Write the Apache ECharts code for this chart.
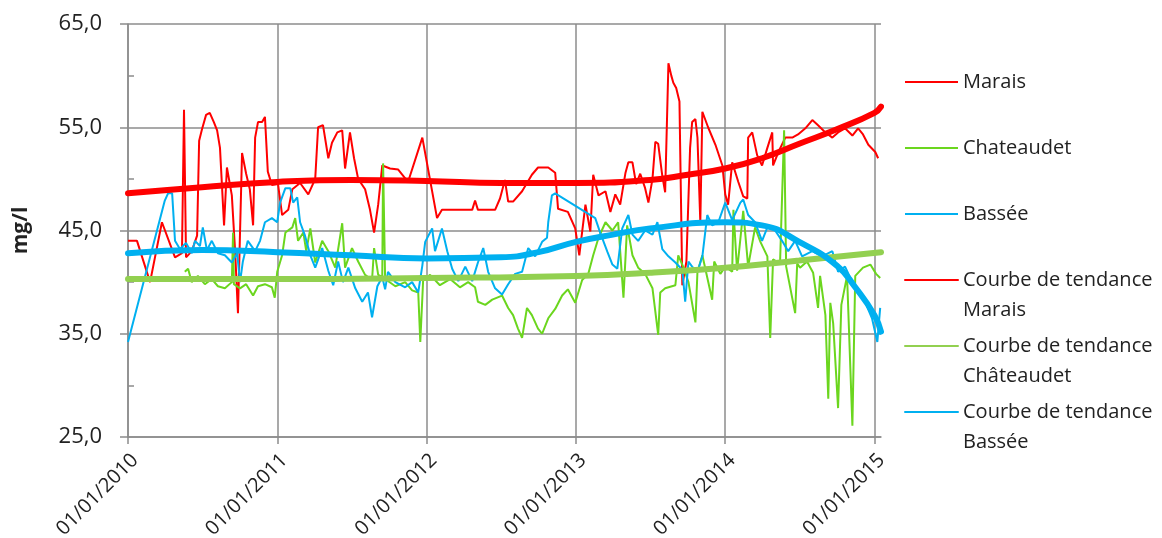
<!DOCTYPE html>
<html>
<head>
<meta charset="utf-8">
<script src="https://cdn.jsdelivr.net/npm/echarts@6/dist/echarts.min.js"></script>
<style>
  html, body { margin: 0; padding: 0; background: #fff; }
  #chart { width: 1162px; height: 538px; }
</style>
</head>
<body>
<div id="chart"></div>
<script>
var marais = [
  ['2010-01-01', 44.0], ['2010-01-23', 44.0], ['2010-02-24', 40.0], ['2010-03-25', 45.8],
  ['2010-04-26', 42.4], ['2010-05-13', 42.8], ['2010-05-18', 56.7], ['2010-05-23', 42.4],
  ['2010-06-06', 43.0], ['2010-06-19', 44.5], ['2010-06-24', 53.7], ['2010-07-01', 54.8],
  ['2010-07-11', 56.2], ['2010-07-20', 56.4], ['2010-07-30', 55.5], ['2010-08-07', 54.7],
  ['2010-08-14', 53.0], ['2010-08-24', 45.5], ['2010-08-31', 51.1], ['2010-09-12', 48.4],
  ['2010-09-20', 43.0], ['2010-09-27', 37.0], ['2010-10-07', 52.5], ['2010-10-17', 50.5],
  ['2010-10-26', 49.0], ['2010-11-03', 45.5], ['2010-11-08', 54.0], ['2010-11-15', 55.5],
  ['2010-11-25', 55.5], ['2010-12-02', 56.0], ['2010-12-09', 50.7], ['2010-12-19', 49.4],
  ['2011-01-03', 49.5], ['2011-01-13', 46.5], ['2011-01-28', 47.0], ['2011-02-07', 49.0],
  ['2011-02-26', 49.6], ['2011-03-18', 48.5], ['2011-04-04', 50.0], ['2011-04-11', 55.0],
  ['2011-04-23', 55.2], ['2011-05-06', 52.0], ['2011-05-15', 53.5], ['2011-05-28', 54.5],
  ['2011-06-09', 54.7], ['2011-06-16', 51.0], ['2011-06-28', 54.5], ['2011-07-08', 52.0],
  ['2011-07-18', 50.0], ['2011-08-04', 49.0], ['2011-08-16', 47.0], ['2011-08-26', 44.8],
  ['2011-09-05', 47.5], ['2011-09-15', 51.3], ['2011-10-04', 51.0], ['2011-10-24', 50.9],
  ['2011-11-17', 49.7], ['2011-12-22', 54.0], ['2012-01-27', 46.2], ['2012-02-08', 47.0],
  ['2012-04-22', 47.0], ['2012-04-29', 47.9], ['2012-05-06', 47.0], ['2012-06-17', 47.0],
  ['2012-06-29', 48.1], ['2012-07-11', 49.9], ['2012-07-19', 47.8], ['2012-07-31', 47.8],
  ['2012-08-22', 48.8], ['2012-09-15', 50.4], ['2012-09-30', 51.1], ['2012-10-25', 51.1],
  ['2012-11-11', 50.6], ['2012-11-18', 47.1], ['2012-12-12', 46.8], ['2012-12-30', 45.2],
  ['2013-01-09', 42.6], ['2013-01-24', 47.5], ['2013-02-05', 44.9], ['2013-02-12', 50.4],
  ['2013-02-25', 48.4], ['2013-03-14', 48.8], ['2013-03-26', 46.8], ['2013-04-07', 48.5],
  ['2013-04-19', 47.5], ['2013-05-02', 50.6], ['2013-05-09', 51.6], ['2013-05-19', 51.6],
  ['2013-05-28', 49.5], ['2013-06-07', 50.5], ['2013-06-19', 49.1], ['2013-06-27', 47.7],
  ['2013-07-07', 50.0], ['2013-07-14', 53.6], ['2013-07-21', 53.4], ['2013-07-31', 50.3],
  ['2013-08-07', 48.7], ['2013-08-15', 61.2], ['2013-08-22', 60.0], ['2013-08-27', 59.3],
  ['2013-09-03', 58.8], ['2013-09-11', 57.5], ['2013-09-13', 52.3], ['2013-09-18', 39.7],
  ['2013-09-28', 42.0], ['2013-10-07', 53.0], ['2013-10-12', 55.5], ['2013-10-20', 55.8],
  ['2013-10-25', 54.0], ['2013-11-01', 45.8], ['2013-11-06', 56.5], ['2013-11-20', 55.0],
  ['2013-12-08', 53.3], ['2013-12-25', 51.3], ['2014-01-01', 48.5], ['2014-01-08', 47.5],
  ['2014-01-18', 51.6], ['2014-02-02', 49.7], ['2014-02-14', 48.3], ['2014-02-24', 48.1],
  ['2014-02-26', 54.0], ['2014-03-08', 54.5], ['2014-03-20', 52.3], ['2014-04-01', 51.3],
  ['2014-04-14', 53.0], ['2014-04-26', 54.5], ['2014-04-28', 51.3], ['2014-05-11', 52.6],
  ['2014-05-28', 54.0], ['2014-06-14', 54.0], ['2014-06-28', 54.3], ['2014-07-16', 54.9],
  ['2014-08-02', 55.7], ['2014-08-16', 55.2], ['2014-09-03', 54.5], ['2014-09-20', 54.0],
  ['2014-10-04', 54.5], ['2014-10-21', 54.9], ['2014-11-08', 54.2], ['2014-11-22', 54.9],
  ['2014-12-04', 54.3], ['2014-12-17', 53.3], ['2015-01-03', 52.6], ['2015-01-10', 52.0]
];

var chateaudet = [
  ['2010-05-20', 41.0], ['2010-05-28', 41.3], ['2010-06-06', 40.0], ['2010-06-21', 40.6],
  ['2010-07-08', 39.8], ['2010-07-25', 40.3], ['2010-08-09', 39.6], ['2010-08-26', 39.4],
  ['2010-09-12', 40.0], ['2010-09-15', 44.8], ['2010-09-17', 39.8], ['2010-10-02', 39.4],
  ['2010-10-17', 39.8], ['2010-11-03', 38.7], ['2010-11-15', 39.6], ['2010-12-02', 39.8],
  ['2010-12-19', 39.5], ['2010-12-26', 38.5], ['2011-01-01', 41.0], ['2011-01-13', 42.6],
  ['2011-01-21', 44.8], ['2011-02-07', 45.3], ['2011-02-14', 46.2], ['2011-02-21', 44.0],
  ['2011-03-06', 44.8], ['2011-03-13', 43.0], ['2011-03-23', 45.2], ['2011-04-04', 41.9],
  ['2011-04-21', 44.0], ['2011-05-06', 43.0], ['2011-05-23', 41.4], ['2011-06-09', 45.7],
  ['2011-06-16', 41.4], ['2011-07-03', 43.3], ['2011-07-18', 42.0], ['2011-08-04', 40.7],
  ['2011-08-21', 40.2], ['2011-08-26', 43.3], ['2011-09-05', 40.7], ['2011-09-15', 40.5],
  ['2011-09-17', 51.5], ['2011-09-22', 40.3], ['2011-10-17', 39.6], ['2011-11-10', 40.0],
  ['2011-11-27', 39.2], ['2011-12-12', 39.0], ['2011-12-17', 34.2], ['2011-12-24', 40.2],
  ['2012-01-10', 40.7], ['2012-02-03', 39.7], ['2012-02-28', 40.3], ['2012-03-23', 39.5],
  ['2012-04-12', 40.0], ['2012-04-29', 39.5], ['2012-05-06', 38.1], ['2012-05-24', 37.8],
  ['2012-06-10', 38.3], ['2012-07-04', 38.7], ['2012-07-19', 37.5], ['2012-07-31', 36.8],
  ['2012-08-12', 35.5], ['2012-08-22', 34.6], ['2012-09-03', 37.5], ['2012-09-15', 36.8],
  ['2012-09-30', 35.5], ['2012-10-10', 35.0], ['2012-10-25', 36.5], ['2012-11-11', 37.4],
  ['2012-11-28', 38.7], ['2012-12-12', 39.3], ['2012-12-30', 38.0], ['2013-01-16', 40.2],
  ['2013-01-31', 40.8], ['2013-02-12', 42.6], ['2013-02-25', 44.3], ['2013-03-14', 45.8],
  ['2013-03-31', 45.0], ['2013-04-14', 45.8], ['2013-04-27', 38.5], ['2013-05-06', 45.5],
  ['2013-05-19', 42.6], ['2013-06-02', 41.4], ['2013-06-19', 40.8], ['2013-07-07', 39.4],
  ['2013-07-21', 34.9], ['2013-07-26', 39.0], ['2013-08-07', 39.4], ['2013-09-01', 39.7],
  ['2013-09-08', 42.6], ['2013-09-20', 41.5], ['2013-10-03', 40.0], ['2013-10-20', 36.1],
  ['2013-10-25', 41.0], ['2013-11-06', 42.6], ['2013-11-30', 38.3], ['2013-12-05', 42.0],
  ['2013-12-20', 40.8], ['2014-01-01', 41.5], ['2014-01-18', 41.0], ['2014-01-21', 47.0],
  ['2014-01-30', 41.1], ['2014-02-14', 46.9], ['2014-02-26', 41.5], ['2014-03-15', 45.3],
  ['2014-03-28', 43.9], ['2014-04-14', 42.5], ['2014-04-21', 34.6], ['2014-04-28', 42.2],
  ['2014-05-15', 41.8], ['2014-05-25', 54.7], ['2014-05-30', 41.5], ['2014-06-21', 37.0],
  ['2014-06-26', 41.8], ['2014-07-03', 41.4], ['2014-07-20', 42.0], ['2014-08-04', 40.9],
  ['2014-08-16', 37.5], ['2014-08-21', 40.6], ['2014-09-03', 36.8], ['2014-09-10', 28.7],
  ['2014-09-15', 38.0], ['2014-09-22', 36.0], ['2014-10-04', 27.8], ['2014-10-12', 37.8],
  ['2014-10-26', 40.6], ['2014-11-08', 26.1], ['2014-11-15', 40.6], ['2014-12-04', 41.4],
  ['2014-12-22', 41.7], ['2015-01-05', 40.8], ['2015-01-15', 40.4]
];

var bassee = [
  ['2010-01-01', 34.2], ['2010-04-01', 47.9], ['2010-04-09', 48.6], ['2010-04-19', 48.6],
  ['2010-04-26', 44.0], ['2010-05-08', 43.2], ['2010-05-23', 43.8], ['2010-06-06', 42.8],
  ['2010-06-14', 44.0], ['2010-06-26', 43.5], ['2010-07-03', 45.3], ['2010-07-13', 43.1],
  ['2010-07-25', 44.0], ['2010-08-09', 42.8], ['2010-08-26', 42.6], ['2010-09-12', 41.9],
  ['2010-09-25', 42.8], ['2010-10-02', 40.0], ['2010-10-09', 42.0], ['2010-10-21', 44.0],
  ['2010-11-08', 43.0], ['2010-11-20', 44.0], ['2010-12-02', 45.8], ['2010-12-19', 46.2],
  ['2011-01-01', 45.8], ['2011-01-08', 47.7], ['2011-01-21', 49.1], ['2011-02-02', 49.1],
  ['2011-02-09', 47.7], ['2011-02-19', 48.2], ['2011-02-26', 45.8], ['2011-03-10', 44.5],
  ['2011-03-23', 42.6], ['2011-04-04', 41.4], ['2011-04-21', 43.3], ['2011-05-06', 41.1],
  ['2011-05-18', 39.7], ['2011-05-30', 42.0], ['2011-06-11', 40.0], ['2011-06-24', 41.4],
  ['2011-07-11', 39.4], ['2011-07-28', 38.1], ['2011-08-11', 39.0], ['2011-08-21', 36.6],
  ['2011-09-03', 39.6], ['2011-09-15', 40.5], ['2011-09-22', 39.3], ['2011-09-29', 41.0],
  ['2011-10-17', 40.0], ['2011-11-10', 39.5], ['2011-11-27', 40.0], ['2011-12-12', 39.0],
  ['2011-12-22', 41.6], ['2011-12-29', 43.9], ['2012-01-15', 45.2], ['2012-01-22', 43.0],
  ['2012-02-08', 45.2], ['2012-02-21', 43.0], ['2012-03-04', 41.3], ['2012-03-19', 40.1],
  ['2012-04-05', 41.5], ['2012-04-22', 40.1], ['2012-05-06', 41.9], ['2012-05-19', 43.3],
  ['2012-05-31', 41.0], ['2012-06-17', 39.4], ['2012-07-04', 38.8], ['2012-07-19', 39.8],
  ['2012-08-05', 40.8], ['2012-08-22', 41.0], ['2012-09-06', 43.3], ['2012-09-23', 42.5],
  ['2012-10-10', 43.9], ['2012-10-22', 44.3], ['2012-10-25', 45.8], ['2012-11-03', 48.4],
  ['2012-11-11', 48.6], ['2013-02-17', 46.2], ['2013-03-01', 44.8], ['2013-03-19', 42.9],
  ['2013-03-31', 41.7], ['2013-04-12', 41.3], ['2013-04-24', 45.2], ['2013-05-09', 46.5],
  ['2013-05-19', 44.6], ['2013-06-02', 44.0], ['2013-06-19', 45.0], ['2013-07-07', 44.6],
  ['2013-07-19', 45.8], ['2013-07-31', 43.2], ['2013-08-15', 42.5], ['2013-09-01', 41.9],
  ['2013-09-18', 41.2], ['2013-09-25', 38.1], ['2013-10-03', 42.0], ['2013-10-12', 41.5],
  ['2013-10-25', 41.0], ['2013-11-06', 42.5], ['2013-11-18', 46.5], ['2013-11-30', 45.5],
  ['2013-12-15', 45.8], ['2014-01-01', 47.7], ['2014-01-18', 46.0], ['2014-02-07', 47.7],
  ['2014-02-14', 48.0], ['2014-02-26', 46.5], ['2014-03-15', 45.8], ['2014-04-01', 44.0],
  ['2014-04-16', 45.5], ['2014-05-03', 45.0], ['2014-05-20', 44.0], ['2014-06-04', 43.0],
  ['2014-06-21', 44.0], ['2014-07-08', 42.5], ['2014-08-02', 43.0], ['2014-08-26', 42.5],
  ['2014-09-20', 43.0], ['2014-10-04', 41.0], ['2014-10-21', 41.5], ['2014-11-08', 40.0],
  ['2014-11-22', 39.3], ['2014-12-09', 38.1], ['2014-12-26', 36.5], ['2015-01-08', 34.2],
  ['2015-01-15', 37.5]
];

// courbes de tendance
var tendanceMarais = [
  ['2010-01-01', 48.6], ['2010-07-01', 49.2], ['2011-01-01', 49.7], ['2011-07-01', 49.9],
  ['2012-01-01', 49.8], ['2012-07-01', 49.6], ['2013-01-01', 49.6], ['2013-07-01', 49.9],
  ['2013-10-01', 50.4], ['2014-01-01', 51.0], ['2014-04-01', 52.0], ['2014-07-01', 53.4],
  ['2014-10-01', 54.8], ['2015-01-01', 56.4], ['2015-01-17', 57.0]
];
var tendanceChateaudet = [
  ['2010-01-01', 40.3], ['2011-01-01', 40.3], ['2012-01-01', 40.4], ['2013-01-01', 40.6],
  ['2013-07-01', 40.9], ['2014-01-01', 41.4], ['2014-07-01', 42.1], ['2015-01-17', 42.9]
];
var tendanceBassee = [
  ['2010-01-01', 42.8], ['2010-07-01', 43.1], ['2011-01-01', 42.9], ['2011-07-01', 42.6],
  ['2012-01-01', 42.3], ['2012-07-01', 42.4], ['2012-10-01', 42.9], ['2013-01-01', 43.9],
  ['2013-04-01', 44.6], ['2013-07-01', 45.2], ['2014-01-01', 45.8], ['2014-04-01', 45.5],
  ['2014-07-01', 43.9], ['2014-10-01', 41.6], ['2014-11-15', 39.5], ['2015-01-01', 36.8],
  ['2015-01-17', 35.2]
];

var yTicks = [25, 35, 45, 55, 65];

var YEAR = 365.25 * 24 * 3600 * 1000;
var xMin = Date.UTC(2010, 0, 1);
var xMax = Date.UTC(2015, 0, 17);
var GRID = '#8c8c8c';
var TXT = '#222';
var FONT = 'Open Sans';

function pts(arr) {
  return arr.map(function (p) { return [Date.parse(p[0]), p[1]]; });
}

var chart = echarts.init(document.getElementById('chart'));

function raw(name, data, color) {
  return {
    name: name, type: 'line', data: pts(data), symbol: 'none',
    lineStyle: { color: color, width: 2 }, itemStyle: { color: color },
    z: 2
  };
}
function trend(name, data, color) {
  return {
    name: name, type: 'line', data: pts(data), symbol: 'none', smooth: true,
    lineStyle: { color: color, width: 6, cap: 'round' }, itemStyle: { color: color },
    z: 3
  };
}

// une ligne de texte : on l'entoure de marges pour que chaque entrée ait la même hauteur
var single = { padding: [30, 0, 30, 0] };

chart.setOption({
  animation: false,
  textStyle: { fontFamily: FONT },
  grid: { left: 128, right: 281, top: 24, bottom: 101, containLabel: false, outerBoundsMode: 'none' },
  legend: {
    orient: 'vertical', left: 904, top: 37, padding: 0,
    itemWidth: 53, itemHeight: 14, itemGap: -24,
    selectedMode: false,
    itemStyle: { opacity: 0 },
    textStyle: { fontFamily: FONT, fontSize: 20, color: TXT, lineHeight: 30 },
    // ligne vide en tête : la 1re ligne du texte reste alignée sur le trait
    formatter: function (n) { return n.replace('Courbe de tendance ', '\nCourbe de tendance\n'); },
    data: [
      { name: 'Marais', textStyle: single },
      { name: 'Chateaudet', textStyle: single },
      { name: 'Bassée', textStyle: single },
      'Courbe de tendance Marais',
      'Courbe de tendance Châteaudet',
      'Courbe de tendance Bassée'
    ]
  },
  xAxis: {
    type: 'value', min: xMin, max: xMax, interval: YEAR,
    axisLine: { lineStyle: { color: GRID, width: 1.5 } },
    axisTick: { length: 7, lineStyle: { color: GRID, width: 1.5 } },
    splitLine: { show: true, lineStyle: { color: [GRID, GRID, GRID, GRID, GRID, GRID, 'rgba(0,0,0,0)'], width: 1.5 } },
    axisLabel: {
      rotate: 45, margin: 13, align: 'right', verticalAlign: 'top',
      fontSize: 20, color: TXT, fontFamily: FONT, showMaxLabel: false,
      formatter: function (v) { return '01/01/' + Math.round(1970 + v / YEAR); }
    }
  },
  yAxis: [{
    type: 'value', min: yTicks[0], max: yTicks[yTicks.length - 1], interval: 10,
    name: 'mg/l', nameLocation: 'middle', nameGap: 96,
    nameTextStyle: { fontFamily: FONT, fontWeight: 'bold', fontSize: 21, color: TXT },
    axisLine: { show: true, lineStyle: { color: GRID, width: 1.5 } },
    axisTick: { show: true, length: 8, lineStyle: { color: GRID, width: 1.5 } },
    splitLine: { lineStyle: { color: GRID, width: 1.5 } },
    axisLabel: {
      margin: 26, fontSize: 22, color: TXT, fontFamily: FONT,
      formatter: function (v) { return v.toFixed(1).replace('.', ','); }
    }
  }, {
    // petites graduations intermédiaires vers l'intérieur
    type: 'value', position: 'left', offset: 0,
    min: yTicks[0], max: yTicks[yTicks.length - 1], interval: 10,
    axisLine: { show: false }, axisLabel: { show: false }, splitLine: { show: false },
    axisTick: { show: false, inside: true },
    minorTick: { show: true, splitNumber: 2, length: 6, lineStyle: { color: GRID, width: 1.5 } }
  }],
  series: [
    raw('Marais', marais, '#ff0000'),
    raw('Chateaudet', chateaudet, '#6bd61e'),
    raw('Bassée', bassee, '#00b0f0'),
    trend('Courbe de tendance Marais', tendanceMarais, '#ff0000'),
    trend('Courbe de tendance Châteaudet', tendanceChateaudet, '#92d050'),
    trend('Courbe de tendance Bassée', tendanceBassee, '#00b0f0')
  ]
});
</script>
</body>
</html>
